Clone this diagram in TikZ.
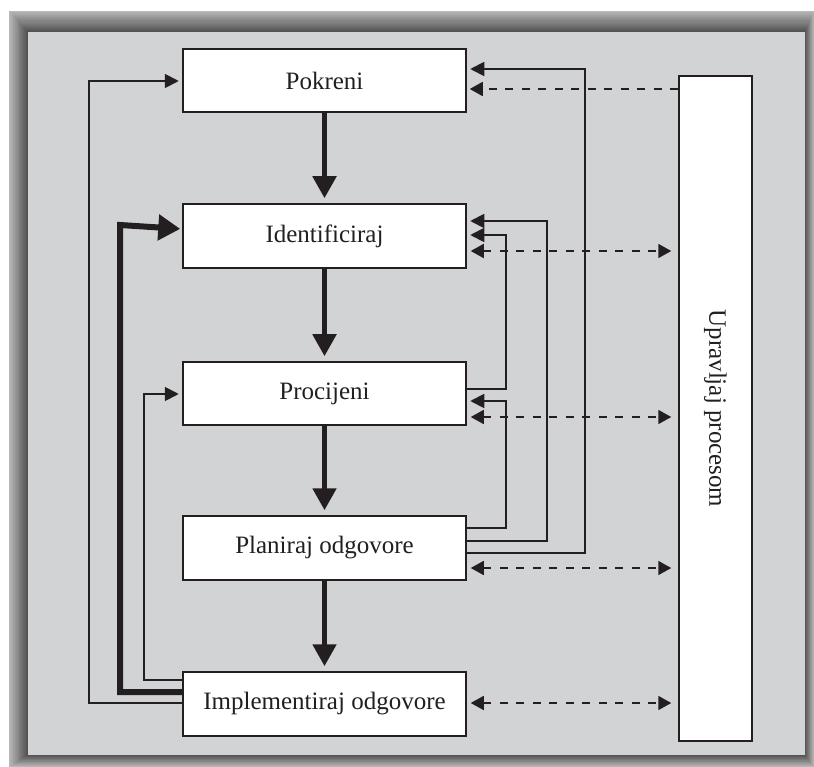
\documentclass[tikz,border=0pt]{standalone}
\usepackage{fontspec}
\setmainfont{Liberation Serif}
\usetikzlibrary{arrows.meta}
\definecolor{bg}{HTML}{D2D3D5}
\definecolor{ink}{HTML}{231F20}
\begin{document}
\begin{tikzpicture}[x=1pt,y=-1pt,
  box/.style={draw=ink, line width=1.5pt, fill=white, minimum width=283pt, inner sep=0pt, text=ink, font=\fontsize{25}{30}\selectfont},
  thinc/.style={draw=ink, line width=1.8pt, -{Triangle[length=14pt,width=14pt]}, shorten >=3.5pt},
  thickd/.style={draw=ink, line width=5pt, -{Triangle[length=22pt,width=23pt]}, shorten >=5pt},
  thickl/.style={draw=ink, line width=6pt, -{Triangle[length=22pt,width=25pt]}, shorten >=2pt},
  dsh/.style={draw=ink, line width=1.8pt, dash pattern=on 8pt off 8.5pt, -{Triangle[length=13pt,width=14pt]}},
  ddsh/.style={draw=ink, line width=1.8pt, dash pattern=on 8pt off 8.5pt, {Triangle[length=13pt,width=14pt]}-{Triangle[length=13pt,width=14pt]}, shorten <=4pt, shorten >=7pt}
]
\useasboundingbox (0,0) rectangle (814,767);
% frame
\foreach \i in {0,...,20}{
  \pgfmathsetmacro{\t}{\i/20}
  \pgfmathsetmacro{\c}{28+42*\t}
  \fill[black!\c] ({9+19*\t},{11+21*\t}) rectangle ({814-9*\t},{767-12*\t});
}
\fill[bg] (28,32) rectangle (805,755);

% nodes
\node[box, minimum height=63pt] (pok) at (324.5,80.5) {Pokreni};
\node[box, minimum height=64pt] (ide) at (324.5,236) {Identificiraj};
\node[box, minimum height=63pt] (pro) at (324.5,393.5) {Procijeni};
\node[box, minimum height=64pt] (pla) at (324.5,548) {Planiraj odgovore};
\node[box, minimum height=64pt] (imp) at (324.5,704) {Implementiraj odgovore};
\node[draw=ink, line width=1.5pt, fill=white, minimum width=73pt, minimum height=665pt, inner sep=0pt] (upr) at (715.5,408.5) {};
\node[rotate=-90, text=ink, font=\fontsize{25}{30}\selectfont] (uprt) at (upr.center) {Upravljaj procesom};

% main flow
\draw[thickd] (pok.south) -- (ide.north);
\draw[thickd] (ide.south) -- (pro.north);
\draw[thickd] (pro.south) -- (pla.north);
\draw[thickd] (pla.south) -- (imp.north);

% left feedback
\draw[thinc] ([yshift=1pt]imp.west) -| (89,81) -- ([yshift=-0.5pt]pok.west);
\draw[thickl] ([yshift=12pt]imp.west) -| (120,225) -- ([yshift=7pt]ide.west);
\draw[thinc] ([yshift=24pt]imp.west) -| (144,394) -- ([yshift=-0.5pt]pro.west);

% right feedback
\draw[thinc] ([yshift=-5pt]pla.east) -| (585,69) -- ([yshift=11.5pt]pok.east);
\draw[thinc] ([yshift=7pt]pla.east) -| (547,221) -- ([yshift=15pt]ide.east);
\draw[thinc] ([yshift=20pt]pla.east) -| (506,401) -- ([yshift=-7.5pt]pro.east);
\draw[thinc] ([yshift=4.5pt]pro.east) -| (506,235) -- ([yshift=1pt]ide.east);

% dashed links
\path ([yshift=-8.5pt]pok.east) coordinate (d1);
\path ([yshift=-15pt]ide.east) coordinate (d2);
\path ([yshift=-23.5pt]pro.east) coordinate (d3);
\path ([yshift=-20pt]pla.east) coordinate (d4);
\path ([yshift=1pt]imp.east) coordinate (d5);
\draw[dsh, shorten >=3pt] (upr.west |- d1) -- (d1);
\draw[ddsh] (d2) -- (upr.west |- d2);
\draw[ddsh] (d3) -- (upr.west |- d3);
\draw[ddsh] (d4) -- (upr.west |- d4);
\draw[ddsh] (d5) -- (upr.west |- d5);
\end{tikzpicture}
\end{document}
